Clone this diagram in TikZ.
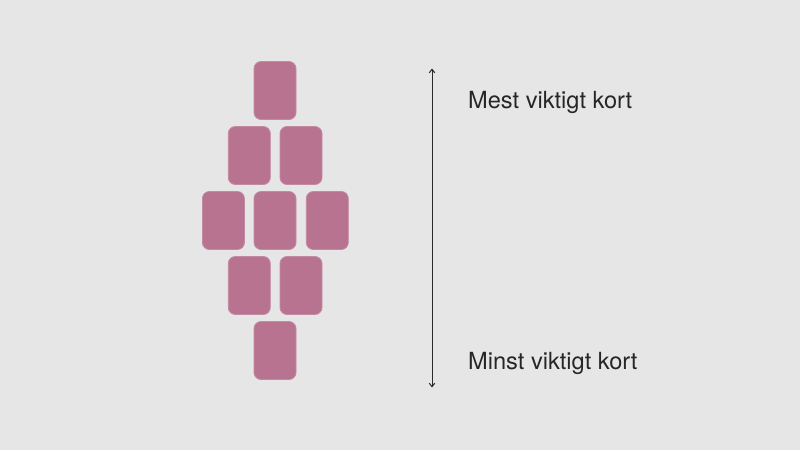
\documentclass[tikz,border=0pt]{standalone}
\usepackage{fontspec}
\setmainfont{TeX Gyre Heros}
\usetikzlibrary{arrows.meta}
\definecolor{bg}{HTML}{E6E6E6}
\definecolor{cardpink}{HTML}{B87390}
\definecolor{cardedge}{HTML}{C58AA3}
\definecolor{arrowgray}{HTML}{2A2A2A}
\tikzset{
  card/.style={draw=cardedge, line width=0.8pt, fill=cardpink, rounded corners=7pt,
    minimum width=42pt, minimum height=58pt, inner sep=0pt},
  label/.style={anchor=base west, inner sep=0pt, font=\fontsize{23.6pt}{28pt}\selectfont, text=black!85},
  tip/.style={Straight Barb[length=3.5pt,width=5.5pt]},
}
\begin{document}
\begin{tikzpicture}[x=1pt,y=-1pt]
\fill[bg] (0,0) rectangle (800,450);
\useasboundingbox (0,0) rectangle (800,450);
\node[card] (c1) at (275,90.5) {};
\node[card] (c2) at (249.3,155.5) {};
\node[card] (c3) at (301,155.5) {};
\node[card] (c4) at (223.4,220.5) {};
\node[card] (c5) at (275,220.5) {};
\node[card] (c6) at (327.3,220.5) {};
\node[card] (c7) at (249.3,285.5) {};
\node[card] (c8) at (301,285.5) {};
\node[card] (c9) at (275,350.5) {};
\coordinate (atop) at (432,68.5);
\coordinate (abot) at (432,387.5);
\draw[arrowgray, line width=1pt, {Straight Barb[length=3.5pt,width=5.5pt]}-{Straight Barb[length=3.5pt,width=5.5pt]}] (atop) -- (abot);
\node[label] (t1) at (468,108) {Mest viktigt kort};
\node[label] (t2) at (468,369) {Minst viktigt kort};
\end{tikzpicture}
\end{document}
